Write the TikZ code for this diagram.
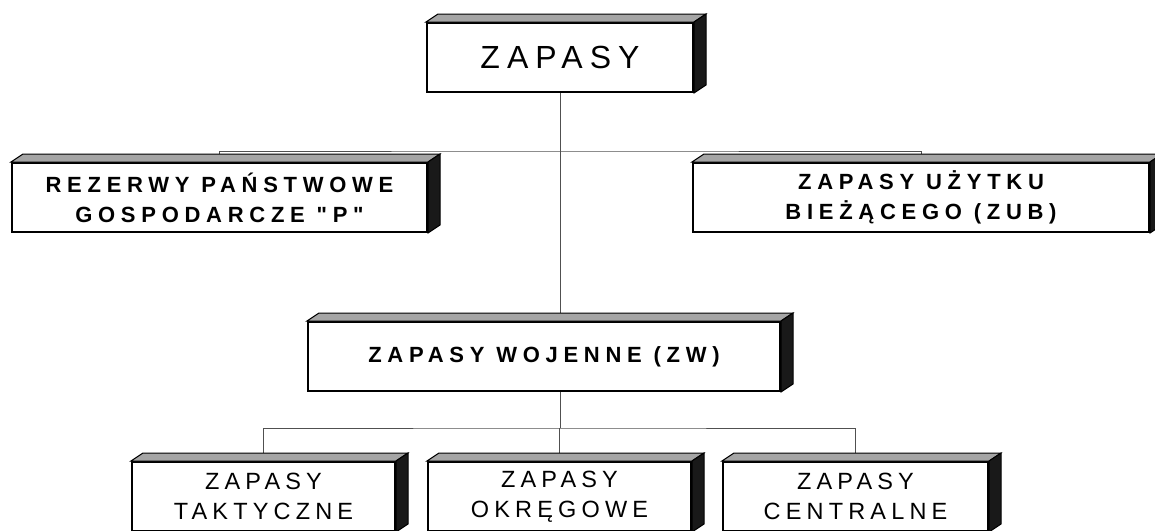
\documentclass[tikz,border=0pt]{standalone}
\usepackage{fontspec}
\setmainfont{Liberation Sans}
\newfontfamily\spaced[LetterSpace=22]{Liberation Sans}
\newfontfamily\spacedb[LetterSpace=26]{Liberation Sans}
\usetikzlibrary{backgrounds}

\begin{document}
\begin{tikzpicture}[x=0.5pt, y=-0.5pt]
  % Define colors
  \definecolor{sidegray}{RGB}{25,25,25}
  \definecolor{topgray}{RGB}{165,165,165}
  \definecolor{linegray}{RGB}{80,80,80}

  \tikzset{
    blk/.style={draw, line width=1pt, fill=white, inner sep=0pt, minimum height=34.5pt, align=center},
    bigtxt/.style={font=\spaced\fontsize{16}{19}\selectfont},
    boldtxt/.style={font=\spacedb\bfseries\fontsize{11}{15}\selectfont},
    thintxt/.style={font=\spaced\fontsize{11.75}{15}\selectfont},
    conn/.style={draw=linegray, line width=0.4pt}
  }

  \clip (0,0) rectangle (1155,530);

  % Top box
  \node[blk, bigtxt, minimum width=133pt] (top) at (560,57.5) {ZAPASY};

  % Second row
  \node[blk, boldtxt, minimum width=207.5pt] (rez) at (219.5,197.5) {REZERWY PAŃSTWOWE\\GOSPODARCZE "P"};
  \node[blk, boldtxt, minimum width=228pt] (zub) at (921,197.5) {ZAPASY UŻYTKU\\BIEŻĄCEGO (ZUB)};

  % War reserves
  \node[blk, boldtxt, minimum width=236pt] (zw) at (544,356.5) {ZAPASY WOJENNE (ZW)};

  % Bottom row
  \node[blk, thintxt, minimum width=131.5pt] (tak) at (263.5,496.5) {ZAPASY\\TAKTYCZNE};
  \node[blk, thintxt, minimum width=131.5pt] (okr) at (559.5,496.5) {ZAPASY\\OKRĘGOWE};
  \node[blk, thintxt, minimum width=132.5pt] (cen) at (855.5,496.5) {ZAPASY\\CENTRALNE};

  % 3D edges of the boxes
  \foreach \n in {top,rez,zub,zw,tak,okr,cen} {
    \filldraw[fill=topgray, draw=black, line width=0.5pt] (\n.north west) -- ([shift={(12,-8)}]\n.north west)
      -- ([shift={(12,-8)}]\n.north east) -- (\n.north east) -- cycle;
    \filldraw[fill=sidegray, draw=black, line width=0.5pt] (\n.north east) -- ([shift={(12,-8)}]\n.north east)
      -- ([shift={(12,-8)}]\n.south east) -- (\n.south east) -- cycle;
  }

  % Connectors
  \coordinate (split1) at (560,151);
  \coordinate (split2) at (560,428);
  \begin{scope}[on background layer]
    \draw[conn] (top.south) -- (top.south |- zw.north);
    \draw[conn] (rez.north) |- (split1) -| (zub.north);
    \draw[conn] (split2 |- zw.south) -- (split2);
    \draw[conn] (tak.north) |- (split2) -| (cen.north);
    \draw[conn] (okr.north) -- (okr.north |- split2);
  \end{scope}
\end{tikzpicture}
\end{document}
